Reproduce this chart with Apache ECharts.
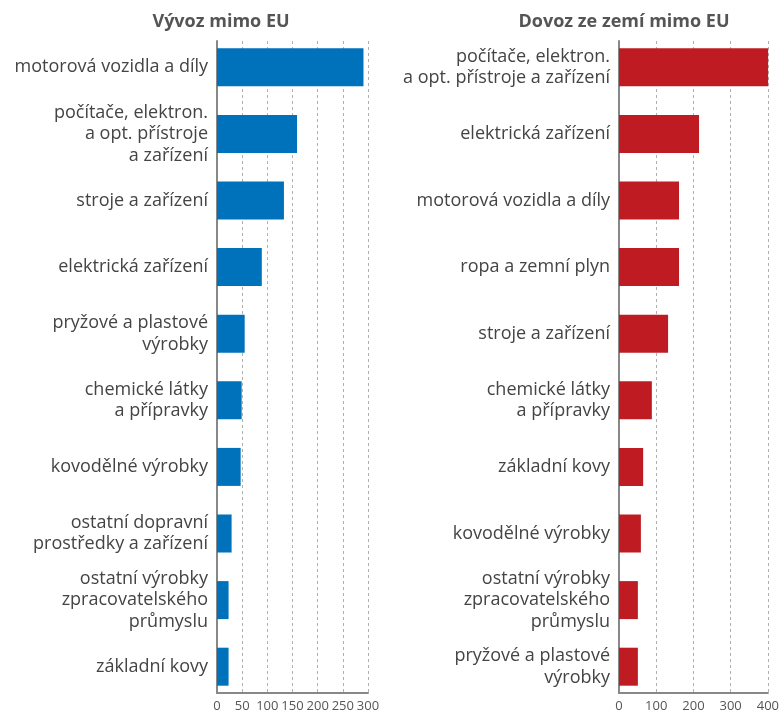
<!DOCTYPE html>
<html><head><meta charset="utf-8">
<script src="https://cdn.jsdelivr.net/npm/echarts@6/dist/echarts.min.js"></script>
<style>html,body{margin:0;padding:0;background:#fff}#c{width:782px;height:713px}</style>
</head><body><div id="c"></div>
<script>
const exportTitle = 'Vývoz mimo EU';
const importTitle = 'Dovoz ze zemí mimo EU';
const exportCategories = [
  'motorová vozidla a díly',
  'počítače, elektron.\na opt. přístroje\na zařízení',
  'stroje a zařízení',
  'elektrická zařízení',
  'pryžové a plastové\nvýrobky',
  'chemické látky\na přípravky',
  'kovodělné výrobky',
  'ostatní dopravní\nprostředky a zařízení',
  'ostatní výrobky\nzpracovatelského\nprůmyslu',
  'základní kovy'
];
const exportValues = [291, 159, 133, 89, 55, 49, 47, 29, 23, 23];
const importCategories = [
  'počítače, elektron.\na opt. přístroje a zařízení',
  'elektrická zařízení',
  'motorová vozidla a díly',
  'ropa a zemní plyn',
  'stroje a zařízení',
  'chemické látky\na přípravky',
  'základní kovy',
  'kovodělné výrobky',
  'ostatní výrobky\nzpracovatelského\nprůmyslu',
  'pryžové a plastové\nvýrobky'
];
const importValues = [395, 212, 159, 159, 130, 87, 64, 58, 50, 50];
const exportTicks = [0, 50, 100, 150, 200, 250, 300];
const importTicks = [0, 100, 200, 300, 400];

const FONT = 'Open Sans';
const chart = echarts.init(document.getElementById('c'), null, {renderer: 'canvas'});

function barGrid(left, width) { return {left: left, width: width, top: 34, height: 666}; }
function axisGrid(left, width) { return {left: left, width: width, top: 41, height: 652}; }

function hiddenX(gi, max) {
  return {gridIndex: gi, type: 'value', min: 0, max: max, show: false};
}
function shownX(gi, ticks) {
  return {
    gridIndex: gi, type: 'value', min: ticks[0], max: ticks[ticks.length - 1],
    interval: ticks[1] - ticks[0],
    axisLine: {show: true, lineStyle: {color: '#888', width: 2}},
    axisTick: {show: false},
    axisLabel: {color: '#555', fontSize: 13, fontFamily: FONT, margin: 7, hideOverlap: false},
    splitLine: {show: true, lineStyle: {color: '#b0b0b0', type: [3, 3], width: 1}}
  };
}
function catY(gi, cats) {
  return {
    gridIndex: gi, type: 'category', data: cats, inverse: true,
    axisLine: {show: false}, axisTick: {show: false},
    axisLabel: {color: '#444', fontSize: 18, fontFamily: FONT, margin: 9, lineHeight: 21.5, align: 'right'}
  };
}
function lineY(gi) {
  return {
    gridIndex: gi, type: 'value', min: 0, max: 1,
    axisLine: {show: true, lineStyle: {color: '#888', width: 2}},
    axisTick: {show: false}, axisLabel: {show: false}, splitLine: {show: false}
  };
}

chart.setOption({
  animation: false,
  backgroundColor: '#fff',
  title: [
    {text: exportTitle, left: 216, top: 8, textAlign: 'center',
     textStyle: {color: '#555', fontSize: 18, fontWeight: 'bold', fontFamily: FONT}},
    {text: importTitle, left: 619, top: 8, textAlign: 'center',
     textStyle: {color: '#555', fontSize: 18, fontWeight: 'bold', fontFamily: FONT}}
  ],
  grid: [
    barGrid(217, 151), axisGrid(217, 151),
    barGrid(619, 151), axisGrid(619, 151)
  ],
  xAxis: [
    hiddenX(0, exportTicks[exportTicks.length - 1]), shownX(1, exportTicks),
    hiddenX(2, importTicks[importTicks.length - 1]), shownX(3, importTicks)
  ],
  yAxis: [
    catY(0, exportCategories), lineY(1),
    catY(2, importCategories), lineY(3)
  ],
  series: [
    {type: 'bar', xAxisIndex: 0, yAxisIndex: 0, data: exportValues, barWidth: 38,
     itemStyle: {color: '#0071bb'}, z: 5},
    {type: 'bar', xAxisIndex: 2, yAxisIndex: 2, data: importValues, barWidth: 38,
     itemStyle: {color: '#be1c22'}, z: 5}
  ]
});
</script></body></html>
